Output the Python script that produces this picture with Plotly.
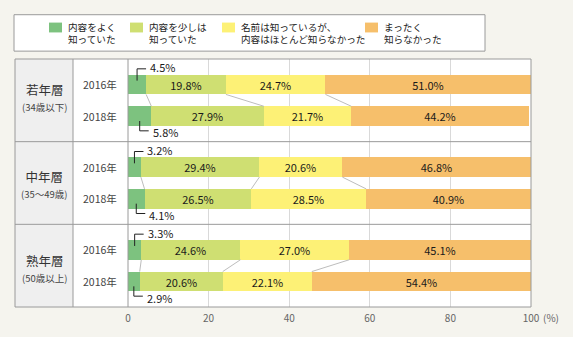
import plotly.graph_objects as go

# ---------------- data ----------------
groups = ["若年層", "中年層", "熟年層"]
group_sub = ["(34歳以下)", "(35～49歳)", "(50歳以上)"]
years = ["2016年", "2018年"]
legend_labels = [["内容をよく", "知っていた"], ["内容を少しは", "知っていた"],
                 ["名前は知っているが、", "内容はほとんど知らなかった"], ["まったく", "知らなかった"]]
well_known = [4.5, 5.8, 3.2, 4.1, 3.3, 2.9]
somewhat = [19.8, 27.9, 29.4, 26.5, 24.6, 20.6]
name_only = [24.7, 21.7, 20.6, 28.5, 27.0, 22.1]
unknown = [51.0, 44.2, 46.8, 40.9, 45.1, 54.4]
tick_vals = [0, 20, 40, 60, 80, 100]
tick_text = ["0", "20", "40", "60", "80", "100"]

series = [well_known, somewhat, name_only, unknown]
colors = ["#7dc27f", "#cfdf72", "#fdf176", "#f6bf6b"]

# ---------------- geometry ----------------
W, H = 573, 337
L, R, T, B = 128, 42, 59, 26
PW, PH = W - L - R, H - T - B
UNIT = PH / 6.0          # px per y unit
XU = PW / 100.0          # px per x unit
FONT = "Noto Sans CJK JP"


def px(x):
    return (x - L) / PW


def py(y):
    return (H - B - y) / PH


ypos = [2 * g + off for g in range(3) for off in (26 / UNIT, 58 / UNIT)]
bar_w = 20 / UNIT

fig = go.Figure()
for vals, col in zip(series, colors):
    fig.add_trace(go.Bar(
        x=vals, y=ypos, orientation="h", width=bar_w,
        marker=dict(color=col, line=dict(width=0)),
        text=[f"{v:.1f}%" if v >= 8 else "" for v in vals],
        textposition="inside", insidetextanchor="middle", textangle=0,
        textfont=dict(size=11, color="#1a1a1a", family=FONT),
        constraintext="none", hoverinfo="skip", showlegend=False,
    ))

shapes = []
ann = []
LINE = "#9a9a9a"

# backgrounds of table columns
shapes.append(dict(type="rect", xref="paper", yref="paper", x0=px(15), x1=px(73), y0=0, y1=1,
                   fillcolor="#efefef", line=dict(width=0), layer="below"))
shapes.append(dict(type="rect", xref="paper", yref="paper", x0=px(73), x1=0, y0=0, y1=1,
                   fillcolor="white", line=dict(width=0), layer="below"))
# legend box
shapes.append(dict(type="rect", xref="paper", yref="paper", x0=px(14), x1=px(485), y0=py(51), y1=py(14),
                   fillcolor="white", line=dict(color=LINE, width=1)))
sw_x = [49, 130, 222, 365]
for i, (lab, col) in enumerate(zip(legend_labels, colors)):
    shapes.append(dict(type="rect", xref="paper", yref="paper", x0=px(sw_x[i]), x1=px(sw_x[i] + 13),
                       y0=py(32), y1=py(22), fillcolor=col, line=dict(width=0)))
    ann.append(dict(text="<br>".join(lab), xref="paper", yref="paper", x=px(sw_x[i] + 17), y=py(32.5),
                    xanchor="left", yanchor="middle", showarrow=False, align="left",
                    font=dict(size=9.6, color="#222", family=FONT)))

# connector lines between 2016 and 2018 bars
for g in range(3):
    a, b = 2 * g, 2 * g + 1
    ca = cb = 0.0
    for k in range(3):
        ca += series[k][a]
        cb += series[k][b]
        shapes.append(dict(type="line", xref="x", yref="y", x0=ca, x1=cb,
                           y0=ypos[a] + bar_w / 2, y1=ypos[b] - bar_w / 2,
                           line=dict(color="#bdbdbd", width=1)))

# callouts for small values
for i, v in enumerate(well_known):
    xm = v / 2
    yc = ypos[i]
    if i % 2 == 0:
        yl = yc - 16 / UNIT
        ys = yc - 4 / UNIT
        yt = yl - 1.5 / UNIT
    else:
        yl = yc + 15 / UNIT
        ys = yc + 5 / UNIT
        yt = yl + 1.5 / UNIT
    shapes.append(dict(type="line", xref="x", yref="y", x0=xm, x1=xm, y0=ys, y1=yl,
                       line=dict(color="#222", width=1)))
    shapes.append(dict(type="line", xref="x", yref="y", x0=xm, x1=xm + 9 / XU, y0=yl, y1=yl,
                       line=dict(color="#222", width=1)))
    ann.append(dict(text=f"{v:.1f}%", xref="x", yref="y", x=xm + 11 / XU, y=yt,
                    xanchor="left", yanchor="middle", showarrow=False,
                    font=dict(size=11, color="#1a1a1a", family=FONT)))

# table lines
shapes.append(dict(type="rect", xref="paper", yref="paper", x0=px(15), x1=1, y0=0, y1=1,
                   line=dict(color=LINE, width=1), layer="above"))
for xv in (73, 128):
    shapes.append(dict(type="line", xref="paper", yref="paper", x0=px(xv), x1=px(xv), y0=0, y1=1,
                       line=dict(color=LINE, width=1), layer="above"))
for gb in (2, 4):
    shapes.append(dict(type="line", xref="paper", yref="y", x0=px(15), x1=1, y0=gb, y1=gb,
                       line=dict(color=LINE, width=1), layer="above"))

# group and year labels
block_off = [-3, 1, 2]
for g in range(3):
    yc = 2 * g + 1
    ann.append(dict(text=f"{groups[g]}<br><span style='font-size:9.5px;color:#444'>{group_sub[g]}</span>",
                    xref="paper", yref="y", x=px(44), y=yc + block_off[g] / UNIT,
                    xanchor="center", yanchor="middle", showarrow=False, align="center",
                    font=dict(size=12.5, color="#333", family=FONT)))
for i, yv in enumerate(ypos):
    ann.append(dict(text=years[i % 2], xref="paper", yref="y", x=px(100), y=yv,
                    xanchor="center", yanchor="middle", showarrow=False,
                    font=dict(size=10.5, color="#444", family=FONT)))

ann.append(dict(text="(%)", xref="paper", yref="paper", x=px(541), y=py(322),
                xanchor="left", yanchor="middle", showarrow=False,
                font=dict(size=10, color="#666", family=FONT)))

fig.update_layout(
    width=W, height=H, margin=dict(l=L, r=R, t=T, b=B),
    paper_bgcolor="#f5f4ee", plot_bgcolor="white",
    barmode="stack", bargap=0, showlegend=False,
    shapes=shapes, annotations=ann,
    font=dict(family=FONT),
    xaxis=dict(range=[0, 100], tickvals=tick_vals, ticktext=tick_text, showgrid=True,
               gridcolor="#d9d9d9", gridwidth=1, zeroline=False, showline=False, ticks="",
               ticklabelstandoff=4,
               tickfont=dict(size=10, color="#666", family=FONT), fixedrange=True),
    yaxis=dict(range=[6, 0], showticklabels=False, showgrid=False, zeroline=False,
               showline=False, fixedrange=True),
)

fig.write_html("out.html")
